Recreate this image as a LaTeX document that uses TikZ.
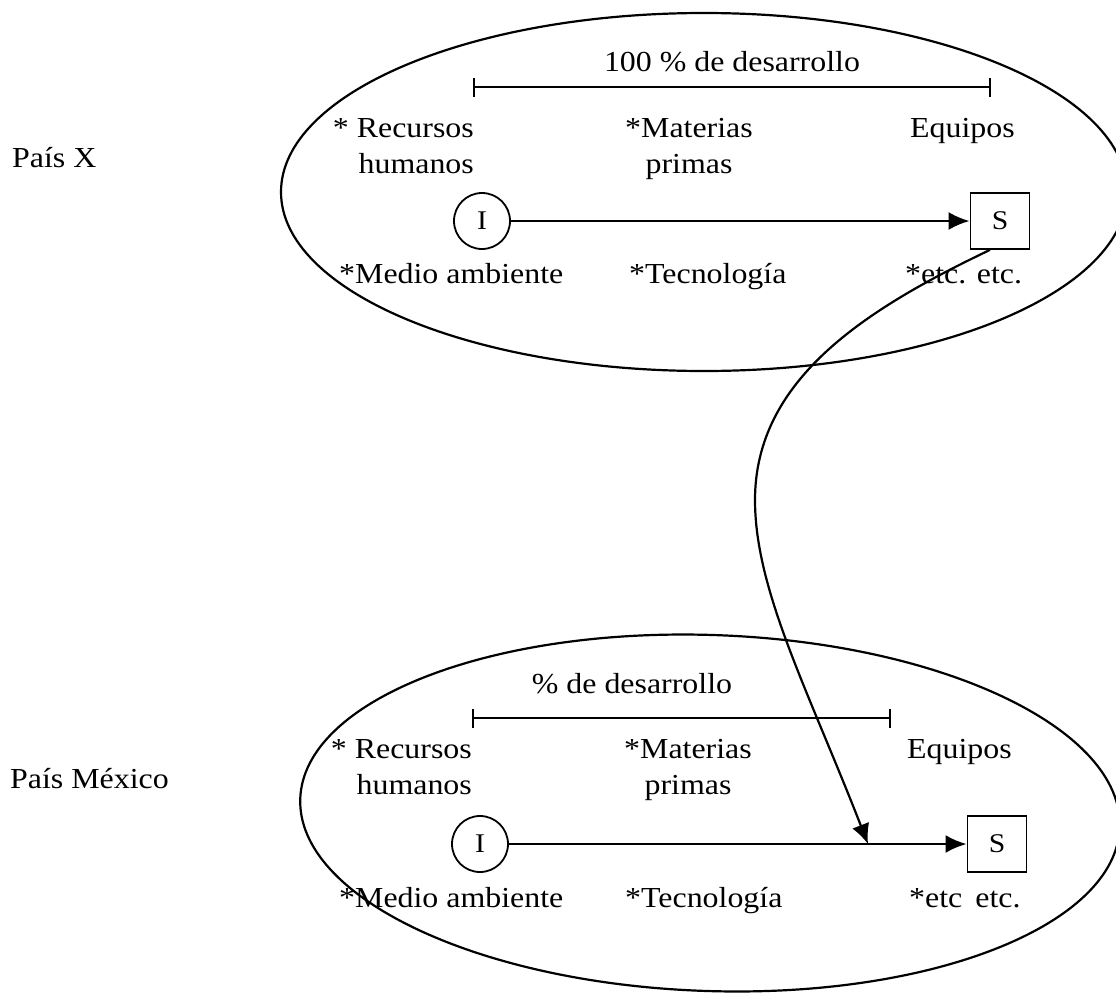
\documentclass[tikz,border=0pt]{standalone}
\usepackage{fontspec}
\setmainfont{Liberation Serif}[FakeStretch=1.1]
\usetikzlibrary{arrows.meta}
\newcommand\twolines[3]{\begin{tabular}[t]{@{}#1@{}}#2\\#3\end{tabular}}
\begin{document}
\begin{tikzpicture}[x=1pt,y=-1pt,
  lbl/.style={inner sep=0pt,font=\fontsize{29}{36}\selectfont},
  oval/.style={draw,line width=2.2pt},
  ibox/.style={draw,circle,line width=1.8pt,minimum size=56pt,inner sep=0pt,font=\fontsize{27}{32}\selectfont},
  sbox/.style={draw,rectangle,line width=1.8pt,minimum width=59pt,minimum height=56pt,inner sep=0pt,font=\fontsize{27}{32}\selectfont},
  flow/.style={line width=2.6pt,-{Latex[length=21pt,width=18pt]}},
  span/.style={line width=2.2pt,{Bar[width=19pt,line width=2.2pt]}-{Bar[width=19pt,line width=2.2pt]}},
  link/.style={line width=2.2pt,-{Latex[length=20pt,width=18pt]}}]
\useasboundingbox (0,0) rectangle (1116,993);

% country labels
\node[lbl,anchor=base west] (px) at (12,167) {País X};
\node[lbl,anchor=base west] (pm) at (10,788) {País México};

% ---------- top country ----------
\draw[oval] (704,192) ellipse [x radius=423, y radius=179];
\node[lbl,anchor=base] (d1) at (732,71) {100 \% de desarrollo};
\coordinate (b1l) at (473,87);
\coordinate (b1r) at (991,87);
\draw[span] (b1l) -- (b1r);
\node[lbl,anchor=base east] (r1) at (474,137) {\twolines{r}{* Recursos}{humanos}};
\node[lbl,anchor=base] (m1) at (689,137) {\twolines{c}{*Materias}{primas}};
\node[lbl,anchor=base west] (e1) at (910,137) {Equipos};
\node[ibox] (I1) at (482,221) {I};
\node[sbox] (S1) at (1000,221) {S};
\draw[flow] (I1) -- (S1);
\node[lbl,anchor=base west] (ma1) at (339,283) {*Medio ambiente};
\node[lbl,anchor=base west] (t1) at (629,283) {*Tecnología};
\node[lbl,anchor=base west] (etc1) at (905,283) {*etc. etc.};

% ---------- bottom country ----------
\draw[oval,rotate around={-2:(710,813)}] (710,813) ellipse [x radius=410, y radius=178];
\node[lbl,anchor=base] (d2) at (632,693) {\% de desarrollo};
\coordinate (b2l) at (472,718);
\coordinate (b2r) at (891,718);
\draw[span] (b2l) -- (b2r);
\node[lbl,anchor=base east] (r2) at (472,758) {\twolines{r}{* Recursos}{humanos}};
\node[lbl,anchor=base] (m2) at (688,758) {\twolines{c}{*Materias}{primas}};
\node[lbl,anchor=base west] (e2) at (907,758) {Equipos};
\node[ibox] (I2) at (480,844) {I};
\node[sbox] (S2) at (997,844) {S};
\draw[flow] (I2) -- (S2);
\node[lbl,anchor=base west] (ma2) at (339,907) {*Medio ambiente};
\node[lbl,anchor=base west] (t2) at (625,907) {*Tecnología};
\node[lbl,anchor=base west] (etc2) at (909,907) {*etc\hspace{0.45em}etc.};

% ---------- transfer link ----------
\coordinate (hit) at (868,844);
\draw[link] ([xshift=-10pt]S1.south) .. controls (864,310) and (755,380) .. (755,500)
  .. controls (755,590) and (808,690) .. (hit);
\end{tikzpicture}
\end{document}
